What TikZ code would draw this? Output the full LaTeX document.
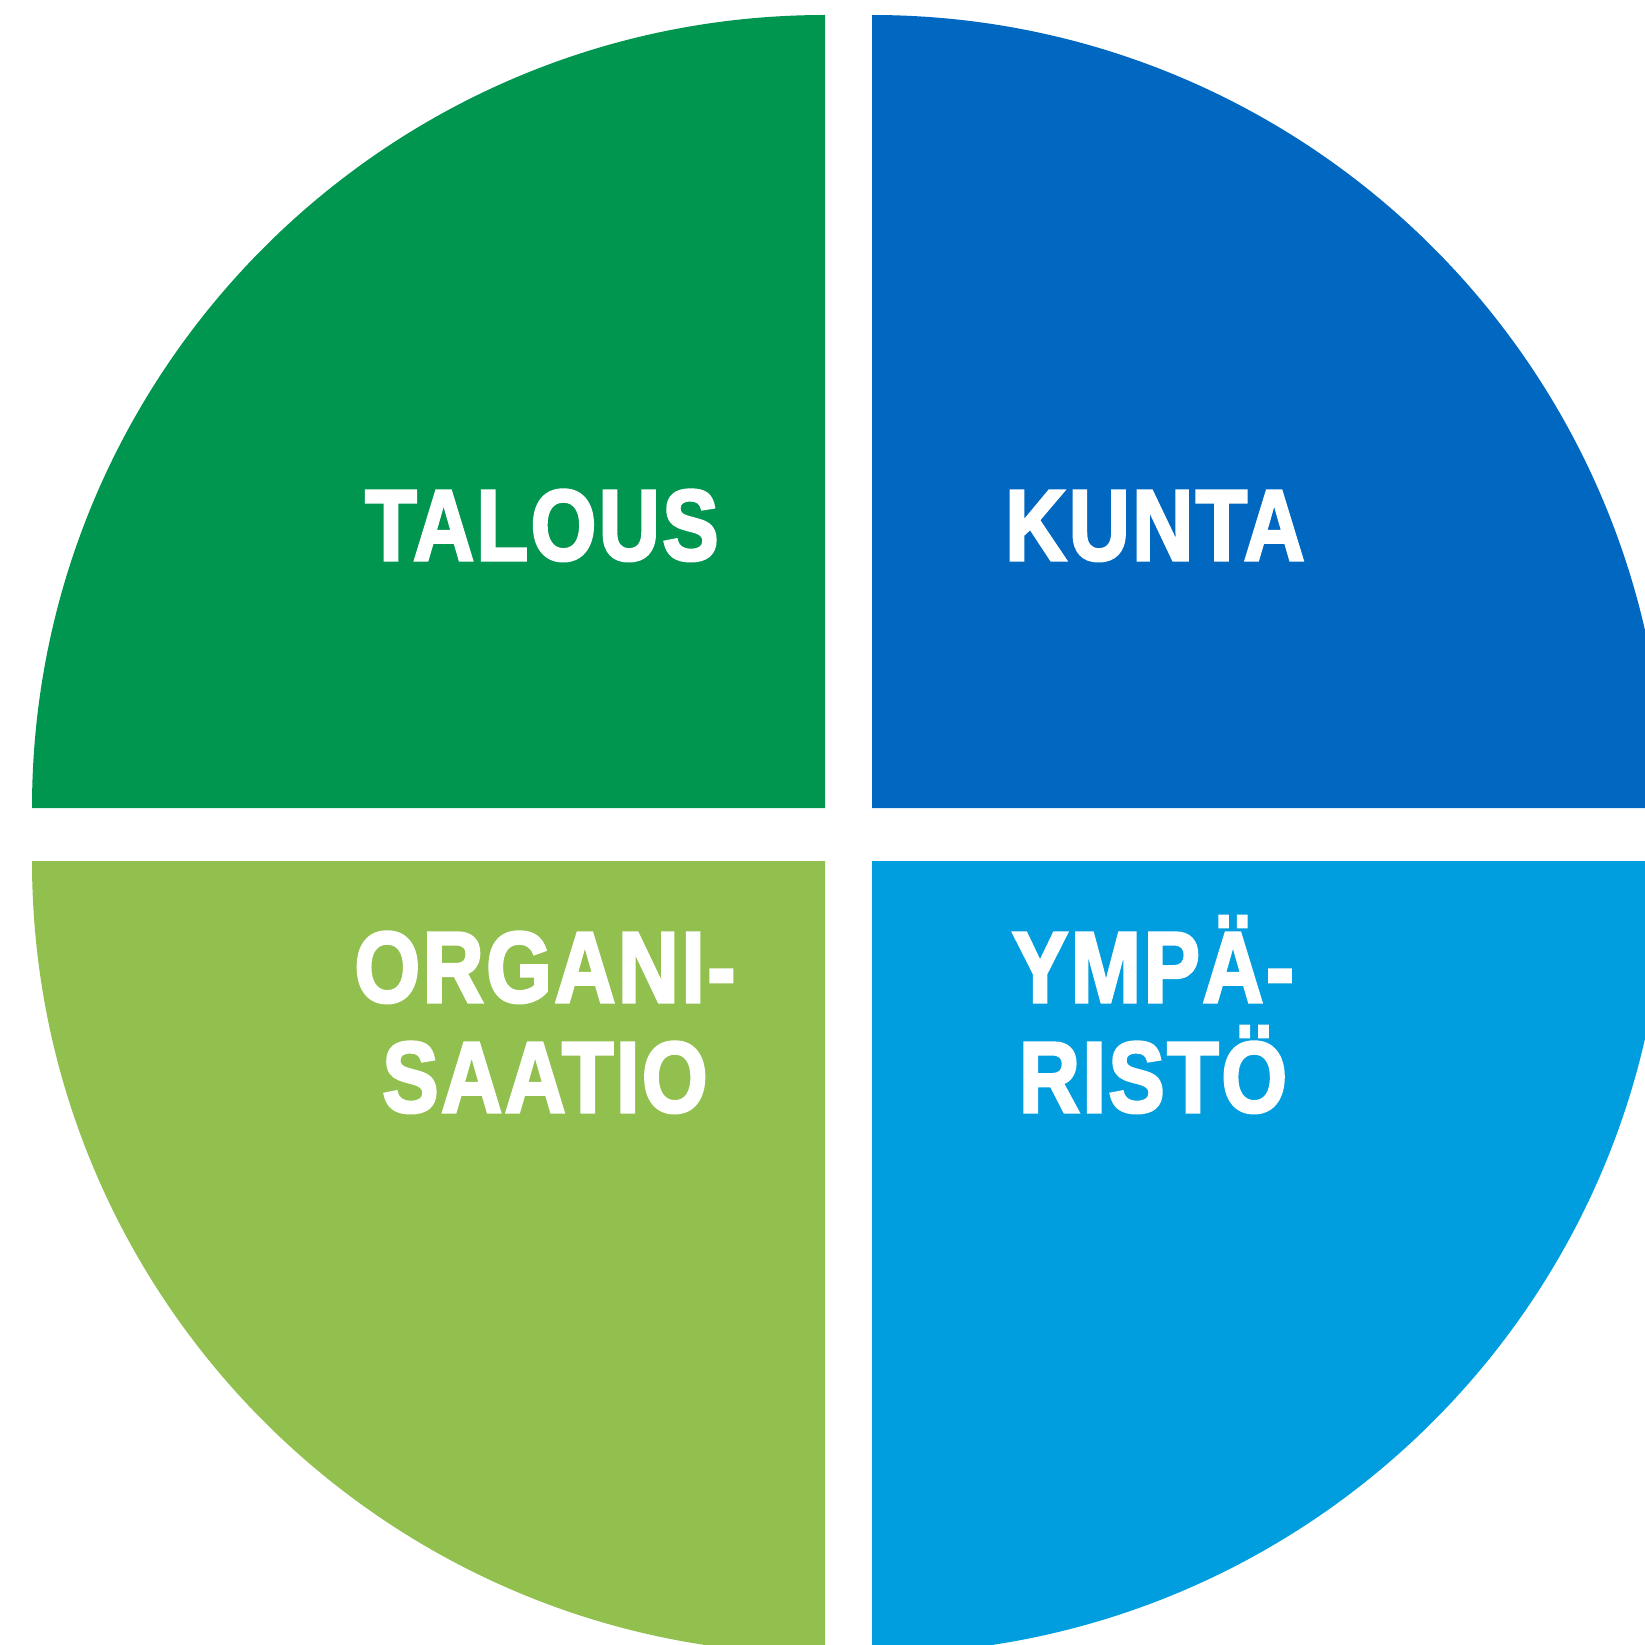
\documentclass[tikz,border=0pt]{standalone}
\usepackage{fontspec}
\newfontfamily\lblfont[FakeBold=3, LetterSpace=3]{Liberation Sans Bold}
\usetikzlibrary{positioning}
\definecolor{talousgreen}{RGB}{0,150,80}
\definecolor{kuntablue}{RGB}{0,104,192}
\definecolor{orggreen}{RGB}{146,192,78}
\definecolor{ymparblue}{RGB}{0,158,222}
\tikzset{
  quad/.style={draw=none},
  lbl/.style={text=white, font=\lblfont\fontsize{28.6}{31.3}\selectfont, align=center, anchor=base, inner sep=0pt, xscale=0.84},
}
\begin{document}
\begin{tikzpicture}
	\useasboundingbox (0,0) rectangle (16.45,16.44);
	\clip (0,0) rectangle (16.45,16.44);
	% corners of the four quarters
	\coordinate (tl) at (8.25,8.36);
	\coordinate (tr) at (8.72,8.36);
	\coordinate (bl) at (8.25,7.83);
	\coordinate (br) at (8.72,7.83);
	%
	\fill[quad, talousgreen] (tl) -- ++(0,7.93) arc[start angle=90, end angle=180, radius=7.93] -- cycle;
	\fill[quad, kuntablue] (tr) -- ++(7.93,0) arc[start angle=0, end angle=90, radius=7.93] -- cycle;
	\fill[quad, orggreen] (bl) -- ++(-7.93,0) arc[start angle=180, end angle=270, radius=7.93] -- cycle;
	\fill[quad, ymparblue] (br) -- ++(0,-7.93) arc[start angle=270, end angle=360, radius=7.93] -- cycle;
	%
	\node[lbl] (talous) at (5.42,10.84) {TALOUS};
	\node[lbl] (kunta) at (11.55,10.84) {KUNTA};
	\node[lbl] (org) at (5.45,5.32) {ORGANI-\\SAATIO};
	\node[lbl] (ymp) at (11.53,5.32) {YMPÄ-\\RISTÖ};
\end{tikzpicture}
\end{document}
